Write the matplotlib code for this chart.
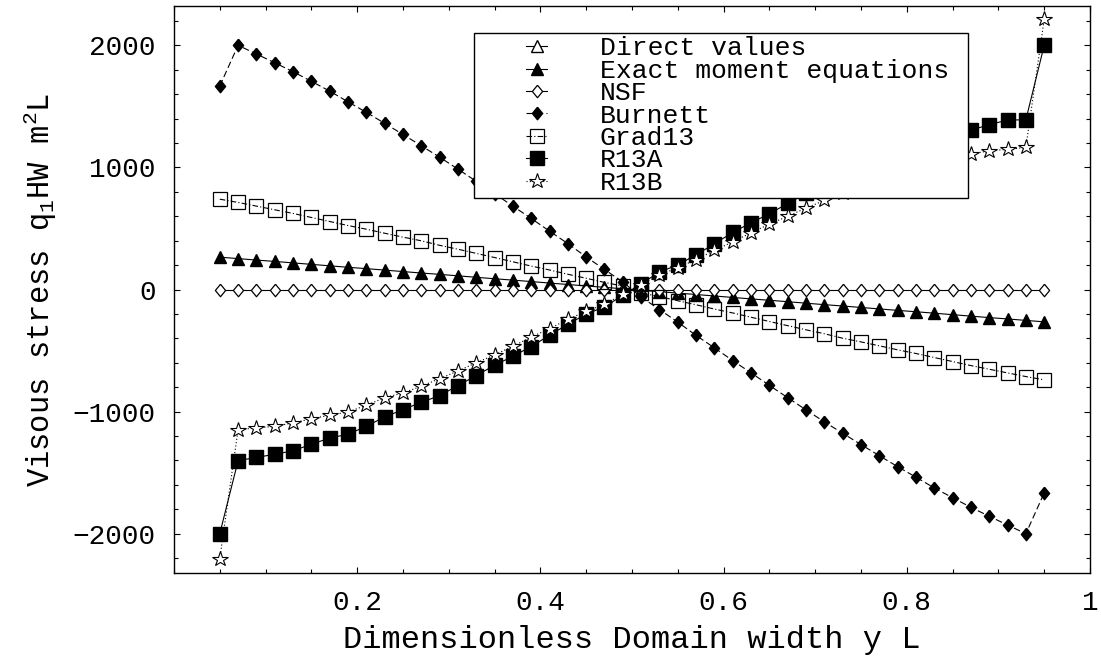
import matplotlib
matplotlib.use("Agg")
import matplotlib.pyplot as plt
from matplotlib.legend_handler import HandlerLine2D
from matplotlib.ticker import MultipleLocator, FixedLocator

# grid positions (dimensionless y/L)
x = [0.05, 0.07, 0.09, 0.11, 0.13, 0.15, 0.17, 0.19, 0.21, 0.23, 0.25, 0.27,
     0.29, 0.31, 0.33, 0.35, 0.37, 0.39, 0.41, 0.43, 0.45, 0.47, 0.49, 0.51,
     0.53, 0.55, 0.57, 0.59, 0.61, 0.63, 0.65, 0.67, 0.69, 0.71, 0.73, 0.75,
     0.77, 0.79, 0.81, 0.83, 0.85, 0.87, 0.89, 0.91, 0.93, 0.95]

direct = []

exact = [265, 253, 241, 230, 218, 206, 194, 182, 171, 159, 147, 135, 124, 112,
         100, 88, 77, 65, 53, 41, 29, 18, 6,
         -6, -18, -29, -41, -53, -65, -77, -88, -100, -112, -124, -135, -147,
         -159, -171, -182, -194, -206, -218, -230, -241, -253, -265]

nsf = [0, 0, 0, 0, 0, 0, 0, 0, 0, 0, 0, 0, 0, 0, 0, 0, 0, 0, 0, 0, 0, 0, 0,
       0, 0, 0, 0, 0, 0, 0, 0, 0, 0, 0, 0, 0, 0, 0, 0, 0, 0, 0, 0, 0, 0, 0]

burnett = [1666, 2000, 1929, 1857, 1784, 1705, 1625, 1537, 1451, 1361, 1270,
           1177, 1084, 986, 886, 785, 683, 582, 478, 376, 267, 164, 62,
           -62, -164, -267, -376, -478, -582, -683, -785, -886, -986, -1084,
           -1177, -1270, -1361, -1451, -1537, -1625, -1705, -1784, -1857,
           -1929, -2000, -1666]

grad13 = [740, 713, 683, 653, 623, 590, 557, 524, 494, 461, 429, 399, 362,
          330, 296, 262, 227, 192, 160, 125, 92, 58, 28,
          -28, -58, -92, -125, -160, -192, -227, -262, -296, -330, -362,
          -399, -429, -461, -494, -524, -557, -590, -623, -653, -683, -713,
          -740]

r13a = [-2000, -1402, -1375, -1350, -1320, -1268, -1216, -1186, -1120, -1044,
        -984, -924, -869, -787, -705, -620, -547, -467, -375, -284, -202,
        -142, -47,
        47, 142, 202, 284, 375, 467, 547, 620, 705, 787, 869, 924, 984, 1044,
        1120, 1186, 1216, 1280, 1305, 1350, 1388, 1390, 2000]

r13b = [-2205, -1148, -1134, -1120, -1093, -1058, -1030, -1003, -948, -886,
        -847, -792, -730, -667, -600, -535, -465, -390, -320, -245, -178,
        -120, -40,
        40, 120, 178, 245, 320, 390, 465, 535, 600, 667, 730, 792, 847, 886,
        948, 1003, 1030, 1058, 1109, 1136, 1148, 1164, 2213]

xtick_pos = [0.2, 0.4, 0.6, 0.8, 1.0]
xtick_labels = ["0.2", "0.4", "0.6", "0.8", "1"]

# gnuplot style diamond, a bit taller than wide
DIAMOND = [(0, 1), (0.82, 0), (0, -1), (-0.82, 0), (0, 1)]


class ShortLine(HandlerLine2D):
    # gnuplot-like key: short line sample centred on the marker
    def create_artists(self, legend, orig_handle, xdescent, ydescent,
                       width, height, fontsize, trans):
        arts = super().create_artists(legend, orig_handle, xdescent, ydescent,
                                      width, height, fontsize, trans)
        line = arts[0]
        xd = line.get_xdata()
        mid = (xd[0] + xd[-1]) / 2
        half = 0.4 * fontsize
        line.set_xdata([mid - half, mid, mid + half])
        return arts


def main():
    plt.rcParams['font.family'] = ['Liberation Mono', 'DejaVu Sans']
    plt.rcParams['mathtext.fontset'] = 'custom'
    plt.rcParams['mathtext.rm'] = 'Liberation Mono'
    plt.rcParams['mathtext.it'] = 'Liberation Mono'

    fig = plt.figure(figsize=(11.01, 6.66), dpi=100)
    ax = fig.add_axes([0.158, 0.1396, 0.832, 0.8514])

    lw = 0.8
    ax.plot(x[:len(direct)], direct, color='black', lw=lw, ls='-',
            marker='^', ms=8, mfc='white', mec='black', label='Direct values')
    ax.plot(x, exact, color='black', lw=lw, ls='-',
            marker='^', ms=8.5, mfc='black', mec='black',
            label='Exact moment equations')
    ax.plot(x, nsf, color='black', lw=lw, ls='-',
            marker=DIAMOND, ms=9, mfc='white', mec='black', mew=0.9,
            label='NSF')
    ax.plot(x, burnett, color='black', lw=lw, ls=(0, (6, 3)),
            marker=DIAMOND, ms=9, mfc='black', mec='black', label='Burnett')
    ax.plot(x, grad13, color='black', lw=lw, ls=(0, (5, 2, 1, 2)),
            marker='s', ms=10, mfc='none', mec='black', mew=0.9,
            label='Grad13')
    ax.plot(x, r13a, color='black', lw=lw, ls='-',
            marker='s', ms=10, mfc='black', mec='black', label='R13A')
    ax.plot(x, r13b, color='black', lw=lw, ls=(0, (1, 2)),
            marker='*', ms=11.5, mfc='white', mec='black', mew=0.8,
            label='R13B')

    ax.set_xlim(0, 1)
    ax.set_ylim(-2322, 2322)

    ax.xaxis.set_major_locator(FixedLocator(xtick_pos))
    ax.set_xticklabels(xtick_labels)
    ax.xaxis.set_minor_locator(MultipleLocator(0.05))
    ax.yaxis.set_major_locator(MultipleLocator(1000))
    ax.yaxis.set_minor_locator(MultipleLocator(200))

    ax.tick_params(which='both', direction='in', top=True, right=True,
                   width=0.8, labelsize=20)
    ax.tick_params(which='major', length=4.5)
    ax.tick_params(which='minor', length=3)
    ax.tick_params(axis='x', pad=12)
    ax.tick_params(axis='y', pad=13)
    for s in ax.spines.values():
        s.set_linewidth(1.0)

    ax.set_xlabel('Dimensionless Domain width y L', fontsize=23, labelpad=7)
    ax.set_ylabel(r'Visous stress q$_{1}$HW m$^{2}$L', fontsize=22,
                  labelpad=10)

    leg = ax.legend(loc='upper left', mode='expand',
                    bbox_to_anchor=(0.3275, 0.952, 0.539, 0.0),
                    borderaxespad=0, fontsize=19, frameon=True,
                    fancybox=False, edgecolor='black', framealpha=1,
                    handlelength=4.5, handletextpad=0.15, labelspacing=-0.06,
                    borderpad=0.12, handler_map={plt.Line2D: ShortLine()})
    leg.get_frame().set_linewidth(1.0)

    fig.savefig("out.png", dpi=100)


if __name__ == "__main__":
    main()
